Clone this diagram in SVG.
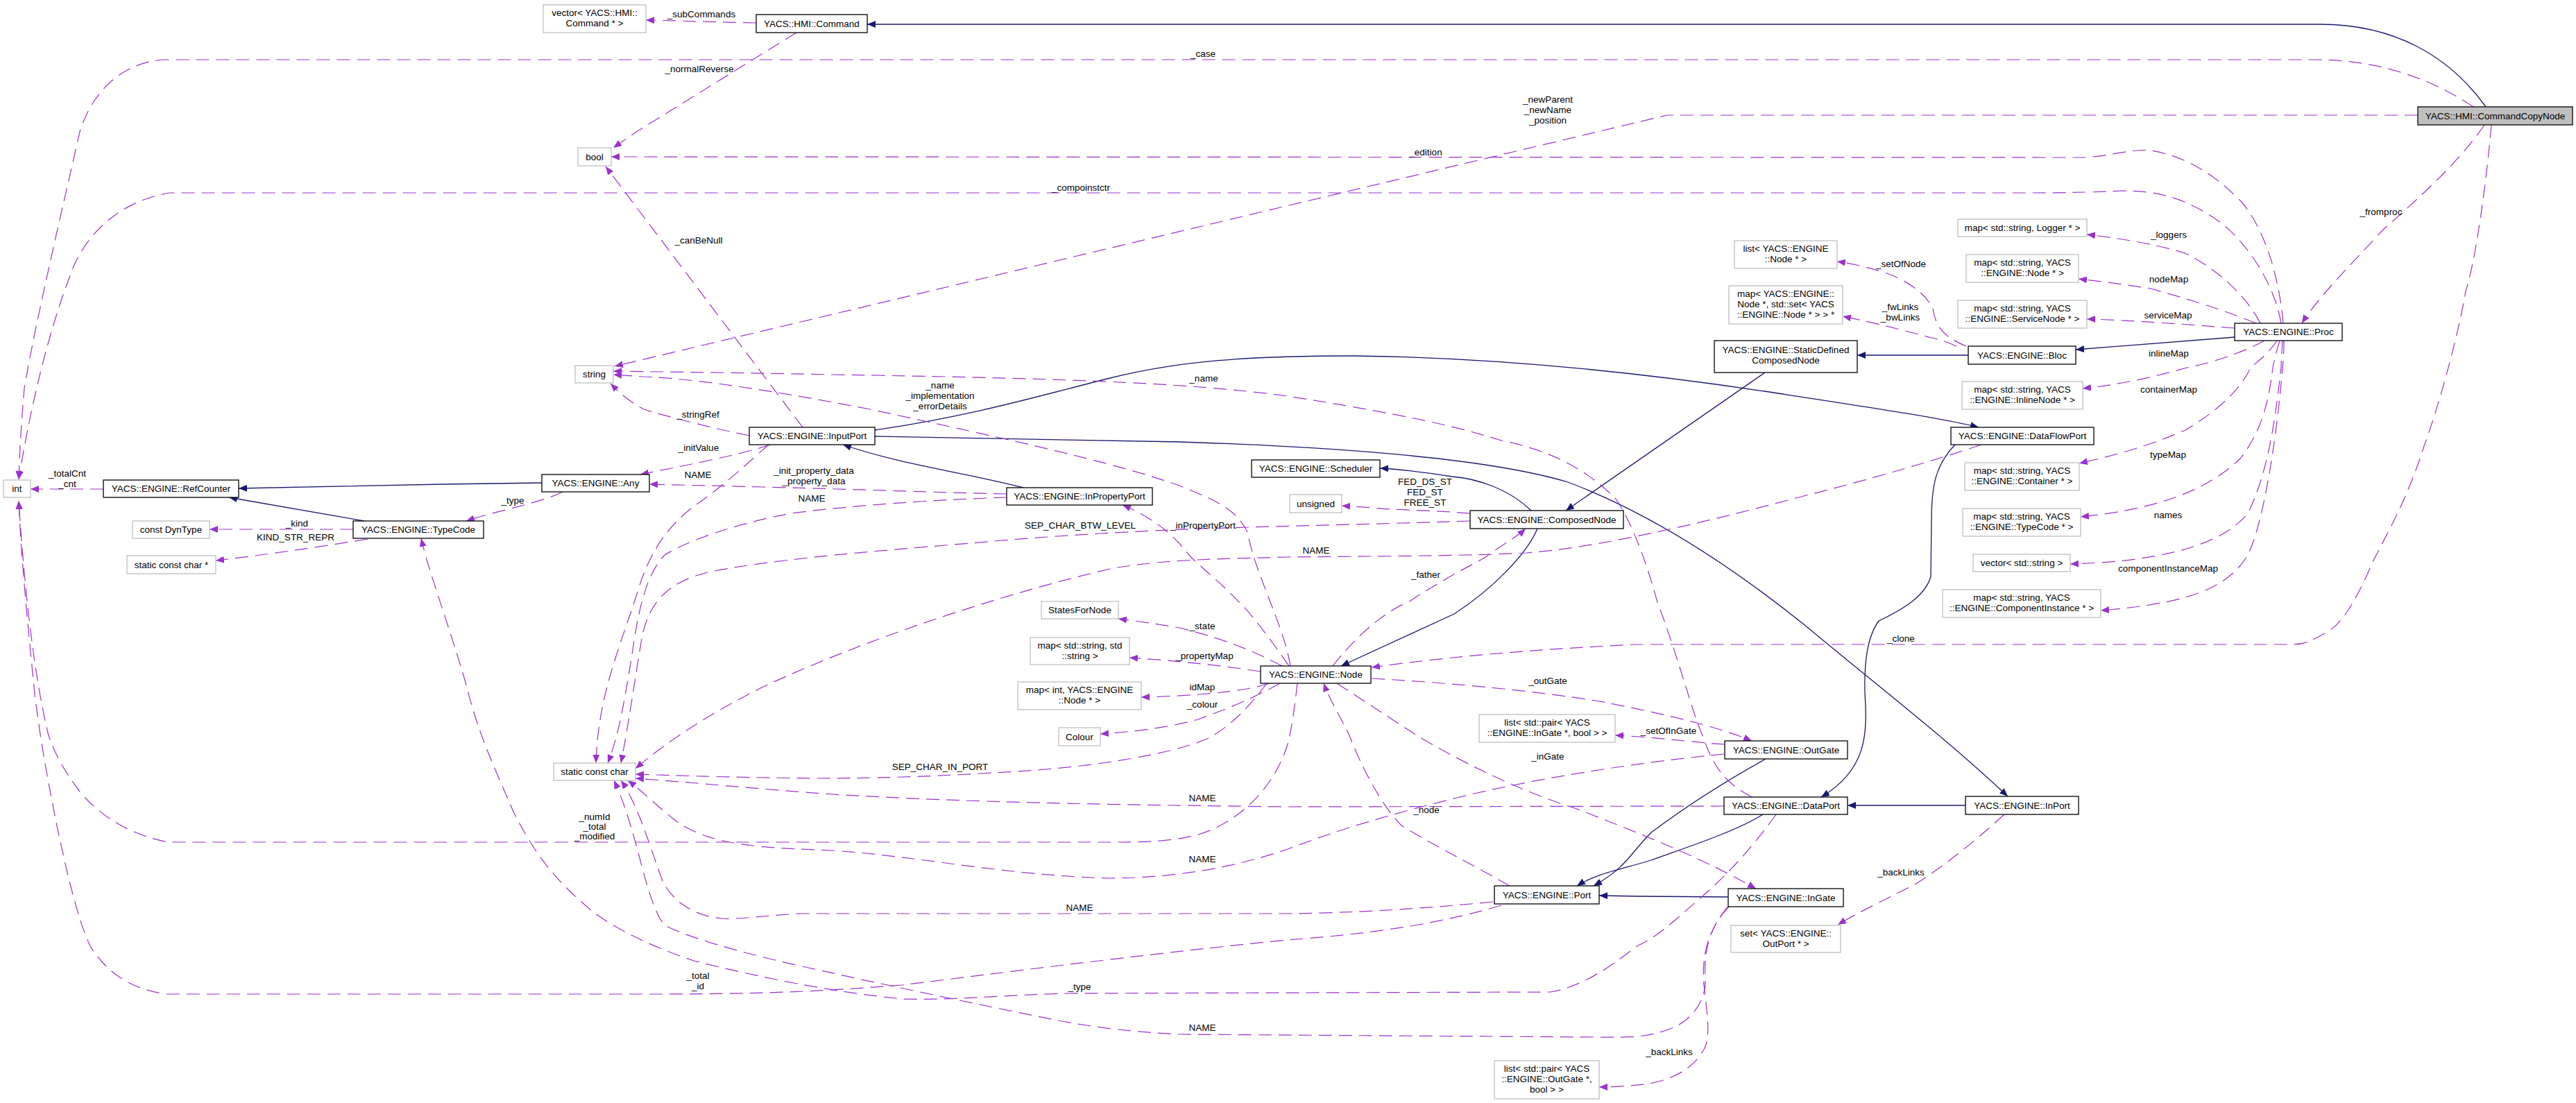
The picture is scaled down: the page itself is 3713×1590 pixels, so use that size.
<svg xmlns="http://www.w3.org/2000/svg" width="3713" height="1590" viewBox="0 0 3713 1590">
<style>
text{font-family:"Liberation Sans",Arial,sans-serif;font-size:13.5px;fill:#000;text-anchor:middle}
.n rect{fill:#fff;stroke:#000;stroke-width:1.3}
.g rect{fill:#fff;stroke:#bfbfbf;stroke-width:1.3}
.u{fill:none;stroke:#9a32cd;stroke-width:1.2;stroke-dasharray:19,10;marker-end:url(#ma)}
.i{fill:none;stroke:#191970;stroke-width:1.3;marker-end:url(#mb)}
</style>
<defs>
<marker id="ma" viewBox="0 0 12 10" refX="12" refY="5" markerWidth="12" markerHeight="10" markerUnits="userSpaceOnUse" orient="auto"><path d="M0,0L12,5L0,10z" fill="#9a32cd"/></marker>
<marker id="mb" viewBox="0 0 12 10" refX="12" refY="5" markerWidth="12" markerHeight="10" markerUnits="userSpaceOnUse" orient="auto"><path d="M0,0L12,5L0,10z" fill="#191970"/></marker>
</defs>
<rect width="3713" height="1590" fill="#fff"/>
<g id="edges">
<path class="i" d="M3583,154 C3530,80 3450,35 3344,35 L1250,35"/>
<path class="i" d="M781,696 L640,698 L344,704"/>
<path class="i" d="M525,751 L330,717"/>
<path class="i" d="M1475,703 C1400,683 1300,670 1215,641"/>
<path class="i" d="M1261,620 C1400,600 1500,570 1600,545 C1700,520 1800,513 1950,513 C2150,515 2350,535 2550,565 C2700,588 2800,603 2852,616"/>
<path class="i" d="M1261,629 L1700,637 C1950,645 2150,662 2260,695 C2380,740 2500,820 2600,900 C2720,1000 2800,1060 2894,1148"/>
<path class="i" d="M2544,537 L2257,736"/>
<path class="i" d="M2837,512 L2677,512"/>
<path class="i" d="M3221,486 L2992,504"/>
<path class="i" d="M2207,736 C2175,705 2130,690 2093,687 C2060,682 2020,676 1989,675"/>
<path class="i" d="M2216,762 C2200,800 2150,850 2096,885 L1933,960"/>
<path class="i" d="M2818,641 C2790,670 2784,700 2784,750 L2783,831 C2775,860 2740,880 2708,895 C2690,920 2687,960 2688,1000 C2692,1060 2690,1110 2625,1149"/>
<path class="i" d="M2833,1161 L2663,1161"/>
<path class="i" d="M2545,1094 C2480,1130 2420,1170 2380,1200 C2350,1230 2345,1250 2297,1277"/>
<path class="i" d="M2541,1174 C2500,1200 2420,1225 2380,1240 C2330,1255 2300,1260 2273,1277"/>
<path class="i" d="M2491,1293 L2360,1292 L2305,1291"/>

<path class="u" d="M149,705 L44,705"/>
<path class="u" d="M509,763 L302,763"/>
<path class="u" d="M530,777 C450,790 380,800 311,808"/>
<path class="u" d="M811,709 C780,725 720,735 672,751"/>
<path class="u" d="M1090,33 C1030,32 990,30 931,29"/>
<path class="u" d="M1148,47 L919,189 L884,213"/>
<path class="u" d="M3565,154 C3500,110 3420,86 3340,86 L237,86 C170,90 130,140 115,190 C90,300 50,470 35,560 C30,620 28,660 27,691"/>
<path class="u" d="M3288,466 C3280,420 3250,360 3200,320 C3150,285 3110,275 3060,275 C3000,278 2950,278 2900,278 L245,278 C170,290 120,340 100,400 C70,480 45,580 27,691"/>
<path class="u" d="M3485,166 L2403,166 L886,528"/>
<path class="u" d="M3291,466 C3285,400 3265,330 3230,290 C3190,250 3150,225 3100,217 C3070,214 3040,226 3000,227 L881,226"/>
<path class="u" d="M1157,616 L873,240"/>
<path class="u" d="M1080,628 C1030,618 960,600 928,590 C905,578 892,565 880,553"/>
<path class="u" d="M1111,641 C1050,660 980,672 923,684"/>
<path class="u" d="M1108,641 C1080,665 1050,695 1000,730 C960,760 935,800 920,850 C895,930 862,1000 859,1100"/>
<path class="u" d="M1451,712 C1350,710 1259,706 1100,702 L936,698"/>
<path class="u" d="M1451,717 C1350,720 1224,729 1140,740 C1060,755 990,780 958,800 C930,830 920,880 910,950 C900,1010 892,1060 876,1100"/>
<path class="u" d="M2119,751 C2000,755 1900,757 1800,760 C1650,764 1520,772 1400,783 C1250,795 1100,808 1020,825 C960,840 935,870 925,920 C915,980 905,1050 895,1100"/>
<path class="u" d="M2856,641 C2800,660 2700,690 2600,715 C2450,755 2300,790 2200,797 C2100,802 1950,802 1856,803 C1750,806 1680,806 1600,820 C1450,855 1250,920 1100,990 C1020,1030 960,1070 916,1108"/>
<path class="u" d="M1826,985 C1800,1020 1770,1050 1740,1065 C1680,1090 1560,1108 1431,1114 C1330,1120 1250,1122 1180,1122 C1080,1121 1000,1119 916,1116"/>
<path class="u" d="M2485,1162 L1856,1163 C1600,1160 1400,1157 1200,1145 C1100,1138 1000,1128 916,1122"/>
<path class="u" d="M2485,1087 C2350,1100 2200,1125 2100,1150 C1980,1180 1920,1200 1856,1224 C1780,1250 1700,1265 1600,1266 C1450,1262 1330,1235 1200,1226 C1100,1222 1020,1220 970,1180 C945,1160 925,1140 905,1125"/>
<path class="u" d="M2152,1300 C2050,1310 1950,1316 1856,1317 L1153,1317 C1100,1320 1060,1326 1040,1324 C1000,1320 970,1300 955,1270 C940,1230 920,1160 895,1125"/>
<path class="u" d="M2492,1307 C2470,1330 2455,1360 2458,1410 C2460,1440 2440,1470 2410,1482 C2380,1494 2359,1496 2300,1495 L1700,1491 C1640,1488 1580,1482 1520,1470 C1420,1450 1300,1425 1165,1395 C1060,1372 990,1350 958,1334 C930,1300 920,1200 885,1125"/>
<path class="u" d="M2164,1305 C2080,1330 1990,1345 1856,1355 C1700,1370 1500,1395 1300,1420 C1150,1432 1050,1433 928,1433 L240,1433 C180,1425 150,1395 130,1364 C110,1320 95,1250 83,1195 C70,1130 60,1080 50,1000 C40,900 30,800 27,722"/>
<path class="u" d="M1870,985 C1866,1020 1862,1050 1856,1073 C1835,1140 1780,1190 1720,1205 C1680,1214 1640,1214 1608,1214 L243,1214 C190,1204 150,1180 118,1145 C95,1115 80,1090 70,1060 C50,980 35,850 27,722"/>
<path class="u" d="M2560,1174 C2520,1230 2480,1270 2448,1297 C2410,1330 2390,1350 2359,1364 C2320,1395 2280,1422 2235,1430 L1540,1432 C1450,1434 1380,1442 1300,1440 C1200,1430 1100,1410 1000,1385 C940,1365 890,1340 858,1317 C800,1270 770,1230 740,1170 C710,1100 690,1060 670,980 C640,880 620,830 607,776"/>
<path class="u" d="M2176,1277 C2120,1245 2060,1215 2020,1190 C1990,1160 1960,1100 1945,1060 C1930,1030 1915,1005 1908,985"/>
<path class="u" d="M1927,985 L2045,1062 C2110,1100 2190,1140 2270,1165 C2360,1200 2450,1235 2531,1281"/>
<path class="u" d="M1977,978 C2100,985 2211,996 2300,1010 C2380,1025 2470,1045 2525,1068"/>
<path class="u" d="M2486,1073 C2440,1070 2380,1062 2328,1060"/>
<path class="u" d="M2490,1307 C2465,1340 2452,1370 2456,1420 C2462,1470 2466,1500 2454,1516 C2440,1540 2410,1558 2370,1563 C2340,1566 2320,1567 2305,1567"/>
<path class="u" d="M2889,1174 C2850,1210 2800,1250 2760,1275 C2710,1300 2670,1320 2649,1333"/>
<path class="u" d="M3591,180 C3585,250 3570,370 3554,420 C3540,500 3510,600 3495,640 C3470,720 3440,770 3420,810 C3390,880 3370,905 3347,915 C3330,925 3320,929 3303,929 L2360,929 C2230,935 2100,945 1977,962"/>
<path class="u" d="M3581,180 C3540,240 3470,300 3436,330 C3390,380 3340,430 3318,466"/>
<path class="u" d="M3258,466 C3240,430 3200,390 3150,365 C3100,350 3050,343 3008,338"/>
<path class="u" d="M3252,466 C3200,445 3150,430 3100,416 C3050,408 3020,405 2996,402"/>
<path class="u" d="M3221,473 C3180,470 3120,465 3060,462 C3040,461 3020,460 3008,460"/>
<path class="u" d="M3264,491 C3230,510 3180,525 3152,530 C3100,545 3050,555 3002,560"/>
<path class="u" d="M3282,491 C3270,510 3255,520 3244,530 C3230,560 3200,590 3150,620 C3080,650 3030,660 2997,668"/>
<path class="u" d="M3286,491 C3280,510 3278,520 3276,530 C3270,580 3260,620 3230,660 C3180,710 3100,735 2999,745"/>
<path class="u" d="M3290,491 C3289,510 3288,520 3288,530 C3280,600 3270,680 3240,740 C3200,790 3100,810 2984,813"/>
<path class="u" d="M3292,491 C3292,510 3291,520 3290,530 C3280,650 3260,760 3240,800 C3210,850 3150,870 3028,880"/>
<path class="u" d="M2834,499 C2800,485 2790,470 2786,445 C2775,420 2740,400 2714,392 C2690,385 2670,380 2648,377"/>
<path class="u" d="M2820,499 C2800,490 2790,488 2784,487 C2740,475 2700,465 2656,456"/>
<path class="u" d="M1921,960 C1960,910 2000,880 2033,866 C2080,835 2120,815 2140,804 C2165,785 2185,775 2199,762"/>
<path class="u" d="M2119,740 C2060,735 2000,735 1980,732 L1934,729"/>
<path class="u" d="M1848,960 C1800,935 1760,920 1700,905 C1660,898 1635,895 1612,892"/>
<path class="u" d="M1817,968 C1750,958 1700,953 1628,948"/>
<path class="u" d="M1830,985 C1790,998 1720,1003 1645,1005"/>
<path class="u" d="M1845,985 C1800,1010 1760,1025 1727,1037 C1680,1050 1630,1055 1586,1058"/>
<path class="u" d="M1858,960 C1830,920 1800,880 1786,868 C1750,830 1720,810 1709,794 C1690,770 1660,745 1618,728"/>
<path class="u" d="M1860,960 C1850,900 1810,830 1798,767 C1780,730 1745,719 1700,700 C1600,665 1461,635 1259,591 C1100,560 990,545 928,543 L884,540"/>
<path class="u" d="M2525,1149 C2490,1130 2471,1111 2454,1060 C2440,1030 2420,950 2389,868 C2370,800 2350,750 2329,719 C2290,680 2240,650 2164,635 C2100,615 2033,599 1856,571 C1700,550 1500,545 1200,540 C1050,537 950,536 884,535"/>
</g>
<g id="edge-labels">
<text x="1011" y="25">_subCommands</text>
<text x="1008" y="104">_normalReverse</text>
<text x="1734" y="82">_case</text>
<text x="1558" y="275">_compoinstctr</text>
<text x="1007" y="351">_canBeNull</text>
<text x="2231" y="148">_newParent</text>
<text x="2231" y="163">_newName</text>
<text x="2231" y="178">_position</text>
<text x="2055" y="224">_edition</text>
<text x="2740" y="385">_setOfNode</text>
<text x="2739" y="447">_fwLinks</text>
<text x="2739" y="462">_bwLinks</text>
<text x="3432" y="310">_fromproc</text>
<text x="3126" y="343">_loggers</text>
<text x="3126" y="407">nodeMap</text>
<text x="3125" y="459">serviceMap</text>
<text x="3126" y="514">inlineMap</text>
<text x="3126" y="566">containerMap</text>
<text x="3125" y="660">typeMap</text>
<text x="3125" y="747">names</text>
<text x="3125" y="824">componentInstanceMap</text>
<text x="2740" y="925">_clone</text>
<text x="97" y="687">_totalCnt</text>
<text x="97" y="702">_cnt</text>
<text x="739" y="726">_type</text>
<text x="428" y="759">_kind</text>
<text x="426" y="779">KIND_STR_REPR</text>
<text x="1006" y="602">_stringRef</text>
<text x="1007" y="650">_initValue</text>
<text x="1006" y="689">NAME</text>
<text x="1173" y="683">_init_property_data</text>
<text x="1173" y="698">_property_data</text>
<text x="1170" y="723">NAME</text>
<text x="1355" y="560">_name</text>
<text x="1355" y="575">_implementation</text>
<text x="1355" y="590">_errorDetails</text>
<text x="1735" y="550">_name</text>
<text x="1557" y="762">SEP_CHAR_BTW_LEVEL</text>
<text x="1734" y="762">_inPropertyPort</text>
<text x="1733" y="907">_state</text>
<text x="1736" y="950">_propertyMap</text>
<text x="1733" y="995">idMap</text>
<text x="1733" y="1020">_colour</text>
<text x="2054" y="699">FED_DS_ST</text>
<text x="2054" y="714">FED_ST</text>
<text x="2054" y="729">FREE_ST</text>
<text x="1897" y="798">NAME</text>
<text x="2055" y="833">_father</text>
<text x="2231" y="986">_outGate</text>
<text x="2405" y="1058">_setOfInGate</text>
<text x="857" y="1182">_numId</text>
<text x="857" y="1196">_total</text>
<text x="857" y="1210">_modified</text>
<text x="1355" y="1110">SEP_CHAR_IN_PORT</text>
<text x="1733" y="1155">NAME</text>
<text x="1733" y="1243">NAME</text>
<text x="1556" y="1313">NAME</text>
<text x="1006" y="1411">_total</text>
<text x="1006" y="1426">_id</text>
<text x="1556" y="1427">_type</text>
<text x="1733" y="1486">NAME</text>
<text x="2231" y="1095">_inGate</text>
<text x="2056" y="1172">_node</text>
<text x="2740" y="1262">_backLinks</text>
<text x="2406" y="1521">_backLinks</text>
</g>
<g id="CommandCopyNode" class="n"><rect x="3485" y="154" width="223" height="26" style="fill:#bfbfbf"/><text x="3596.5" y="172">YACS::HMI::CommandCopyNode</text></g>
<g id="Command" class="n"><rect x="1090" y="21" width="160" height="26"/><text x="1170" y="39">YACS::HMI::Command</text></g>
<g id="vectorCommand" class="g"><rect x="783" y="7" width="148" height="40"/><text x="857" y="23">vector&lt; YACS::HMI::</text><text x="857" y="38">Command * &gt;</text></g>
<g id="bool" class="g"><rect x="833" y="213" width="48" height="26"/><text x="857" y="231">bool</text></g>
<g id="string" class="g"><rect x="829" y="527" width="55" height="25"/><text x="856.5" y="544">string</text></g>
<g id="int" class="g"><rect x="5" y="692" width="39" height="25"/><text x="24.5" y="709">int</text></g>
<g id="RefCounter" class="n"><rect x="149" y="692" width="195" height="25"/><text x="246.5" y="709">YACS::ENGINE::RefCounter</text></g>
<g id="Any" class="n"><rect x="781" y="684" width="155" height="25"/><text x="858.5" y="701">YACS::ENGINE::Any</text></g>
<g id="TypeCode" class="n"><rect x="509" y="751" width="188" height="25"/><text x="603" y="768">YACS::ENGINE::TypeCode</text></g>
<g id="DynType" class="g"><rect x="191" y="751" width="111" height="25"/><text x="246.5" y="768">const DynType</text></g>
<g id="staticConstCharPtr" class="g"><rect x="183" y="801" width="128" height="26"/><text x="247" y="819">static const char *</text></g>
<g id="staticConstChar" class="g"><rect x="798" y="1100" width="118" height="25"/><text x="857" y="1117">static const char</text></g>
<g id="InputPort" class="n"><rect x="1080" y="616" width="181" height="25"/><text x="1170.5" y="633">YACS::ENGINE::InputPort</text></g>
<g id="InPropertyPort" class="n"><rect x="1451" y="703" width="210" height="25"/><text x="1556" y="720">YACS::ENGINE::InPropertyPort</text></g>
<g id="Scheduler" class="n"><rect x="1804" y="663" width="185" height="25"/><text x="1896.5" y="680">YACS::ENGINE::Scheduler</text></g>
<g id="unsigned" class="g"><rect x="1859" y="713" width="75" height="26"/><text x="1896.5" y="731">unsigned</text></g>
<g id="ComposedNode" class="n"><rect x="2119" y="736" width="221" height="26"/><text x="2229.5" y="754">YACS::ENGINE::ComposedNode</text></g>
<g id="StaticDefinedComposedNode" class="n"><rect x="2471" y="491" width="206" height="46"/><text x="2574" y="509">YACS::ENGINE::StaticDefined</text><text x="2574" y="524">ComposedNode</text></g>
<g id="listNode" class="g"><rect x="2500" y="347" width="148" height="40"/><text x="2574" y="363">list&lt; YACS::ENGINE</text><text x="2574" y="378">::Node * &gt;</text></g>
<g id="mapNodeSet" class="g"><rect x="2492" y="412" width="164" height="55"/><text x="2574" y="428">map&lt; YACS::ENGINE::</text><text x="2574" y="443">Node *, std::set&lt; YACS</text><text x="2574" y="458">::ENGINE::Node * &gt; &gt; *</text></g>
<g id="Bloc" class="n"><rect x="2837" y="499" width="155" height="26"/><text x="2914.5" y="517">YACS::ENGINE::Bloc</text></g>
<g id="Proc" class="n"><rect x="3221" y="466" width="155" height="25"/><text x="3298.5" y="483">YACS::ENGINE::Proc</text></g>
<g id="mapLogger" class="g"><rect x="2822" y="316" width="186" height="25"/><text x="2915" y="333">map&lt; std::string, Logger * &gt;</text></g>
<g id="mapNode" class="g"><rect x="2834" y="367" width="162" height="40"/><text x="2915" y="383">map&lt; std::string, YACS</text><text x="2915" y="398">::ENGINE::Node * &gt;</text></g>
<g id="mapServiceNode" class="g"><rect x="2822" y="433" width="186" height="40"/><text x="2915" y="449">map&lt; std::string, YACS</text><text x="2915" y="464">::ENGINE::ServiceNode * &gt;</text></g>
<g id="mapInlineNode" class="g"><rect x="2828" y="550" width="174" height="40"/><text x="2915" y="566">map&lt; std::string, YACS</text><text x="2915" y="581">::ENGINE::InlineNode * &gt;</text></g>
<g id="DataFlowPort" class="n"><rect x="2812" y="616" width="206" height="25"/><text x="2915" y="633">YACS::ENGINE::DataFlowPort</text></g>
<g id="mapContainer" class="g"><rect x="2832" y="667" width="165" height="40"/><text x="2914.5" y="683">map&lt; std::string, YACS</text><text x="2914.5" y="698">::ENGINE::Container * &gt;</text></g>
<g id="mapTypeCode" class="g"><rect x="2829" y="733" width="170" height="40"/><text x="2914" y="749">map&lt; std::string, YACS</text><text x="2914" y="764">::ENGINE::TypeCode * &gt;</text></g>
<g id="vectorString" class="g"><rect x="2844" y="799" width="140" height="25"/><text x="2914" y="816">vector&lt; std::string &gt;</text></g>
<g id="mapComponentInstance" class="g"><rect x="2800" y="850" width="228" height="40"/><text x="2914" y="866">map&lt; std::string, YACS</text><text x="2914" y="881">::ENGINE::ComponentInstance * &gt;</text></g>
<g id="StatesForNode" class="g"><rect x="1501" y="867" width="111" height="25"/><text x="1556.5" y="884">StatesForNode</text></g>
<g id="mapStringString" class="g"><rect x="1485" y="919" width="143" height="39"/><text x="1556.5" y="935">map&lt; std::string, std</text><text x="1556.5" y="950">::string &gt;</text></g>
<g id="mapIntNode" class="g"><rect x="1467" y="983" width="178" height="40"/><text x="1556" y="999">map&lt; int, YACS::ENGINE</text><text x="1556" y="1014">::Node * &gt;</text></g>
<g id="Colour" class="g"><rect x="1526" y="1049" width="60" height="26"/><text x="1556" y="1067">Colour</text></g>
<g id="Node" class="n"><rect x="1817" y="960" width="159" height="25"/><text x="1896.5" y="977">YACS::ENGINE::Node</text></g>
<g id="listPairInGate" class="g"><rect x="2132" y="1030" width="196" height="40"/><text x="2230" y="1046">list&lt; std::pair&lt; YACS</text><text x="2230" y="1061">::ENGINE::InGate *, bool &gt; &gt;</text></g>
<g id="OutGate" class="n"><rect x="2486" y="1068" width="177" height="26"/><text x="2574.5" y="1086">YACS::ENGINE::OutGate</text></g>
<g id="DataPort" class="n"><rect x="2485" y="1149" width="178" height="25"/><text x="2574" y="1166">YACS::ENGINE::DataPort</text></g>
<g id="InPort" class="n"><rect x="2833" y="1148" width="163" height="26"/><text x="2914.5" y="1166">YACS::ENGINE::InPort</text></g>
<g id="Port" class="n"><rect x="2154" y="1277" width="151" height="26"/><text x="2229.5" y="1295">YACS::ENGINE::Port</text></g>
<g id="InGate" class="n"><rect x="2491" y="1281" width="166" height="26"/><text x="2574" y="1299">YACS::ENGINE::InGate</text></g>
<g id="setOutPort" class="g"><rect x="2495" y="1334" width="158" height="39"/><text x="2574" y="1350">set&lt; YACS::ENGINE::</text><text x="2574" y="1365">OutPort * &gt;</text></g>
<g id="listPairOutGate" class="g"><rect x="2154" y="1529" width="151" height="55"/><text x="2229.5" y="1545">list&lt; std::pair&lt; YACS</text><text x="2229.5" y="1560">::ENGINE::OutGate *,</text><text x="2229.5" y="1575">bool &gt; &gt;</text></g>
</svg>
